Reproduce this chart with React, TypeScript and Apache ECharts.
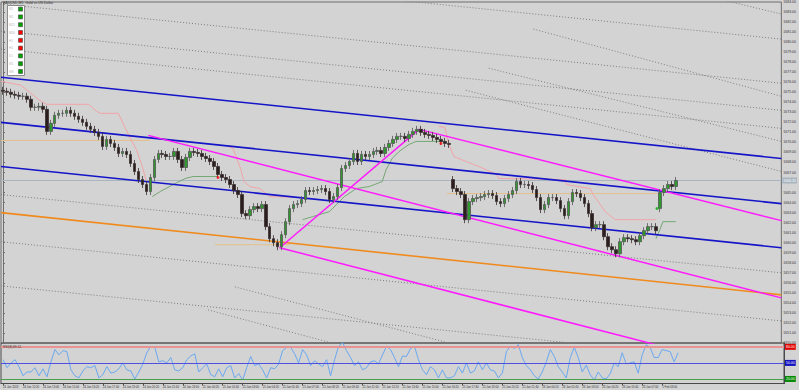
import React, { useEffect, useRef } from 'react';
import * as echarts from 'echarts';

const closes = [
  1675.1, 1675.0, 1674.8, 1674.7, 1674.6, 1674.6, 1674.3, 1673.5, 1673.5, 1673.6,
  1673.3, 1671.1, 1671.9, 1672.7, 1672.9, 1672.9, 1673.2, 1672.9, 1672.6, 1672.3,
  1672.0, 1671.6, 1671.3, 1671.0, 1670.6, 1669.6, 1670.3, 1669.9, 1669.5, 1668.9,
  1669.1, 1668.8, 1667.9, 1667.1, 1666.3, 1665.8, 1665.1, 1666.5, 1668.3, 1668.9,
  1668.8, 1668.6, 1668.6, 1669.1, 1668.3, 1667.5, 1668.5, 1669.1, 1669.0, 1668.9,
  1668.6, 1668.4, 1668.1, 1667.6, 1666.8, 1666.5, 1666.3, 1665.8, 1665.2, 1664.8,
  1662.9, 1662.7, 1663.3, 1663.6, 1663.4, 1663.8, 1661.6, 1660.4, 1660.0, 1659.6,
  1660.8, 1662.1, 1663.4, 1663.8, 1663.9, 1664.3, 1665.2, 1665.1, 1665.2, 1665.3,
  1665.4, 1665.1, 1664.3, 1664.6, 1665.5, 1667.4, 1667.7, 1668.1, 1668.9, 1668.1,
  1668.8, 1668.6, 1668.8, 1669.1, 1669.2, 1668.9, 1669.5, 1669.9, 1670.3, 1670.6,
  1670.6, 1670.4, 1670.8, 1671.1, 1671.3, 1671.0, 1670.8, 1670.7, 1670.5, 1670.3,
  1670.1, 1669.9, 1669.8, 1665.4, 1665.1, 1664.8, 1662.3, 1664.1, 1664.4, 1664.5,
  1664.6, 1664.8, 1664.9, 1664.7, 1664.1, 1663.9, 1664.4, 1664.8, 1665.2, 1666.1,
  1665.8, 1665.8, 1665.7, 1665.3, 1664.5, 1663.3, 1663.8, 1664.5, 1664.5, 1664.2,
  1663.4, 1662.7, 1664.1, 1665.0, 1664.9, 1664.5, 1663.9, 1662.9, 1661.5, 1661.8,
  1661.8, 1660.6, 1659.6, 1659.3, 1658.9, 1660.1, 1660.5, 1660.4, 1660.3, 1660.1,
  1660.7, 1661.2, 1661.6, 1661.6, 1661.2, 1665.0, 1665.4, 1665.8, 1665.6, 1666.2,
];
// bars that open away from the previous close (session gaps): [bar, open]
const gapOpens: [number, number][] = [[113, 1666.3], [165, 1663.4]];
const wick = 0.35;

const rsiValues = [
  56, 41, 50, 56, 43, 26, 33, 33, 41, 26, 39, 24, 52, 75, 65, 73, 71, 37, 26, 22,
  35, 43, 41, 45, 22, 28, 43, 31, 33, 39, 50, 37, 35, 20, 33, 48, 69, 81, 79, 52,
  54, 50, 60, 37, 35, 41, 56, 63, 67, 33, 41, 48, 28, 24, 39, 24, 41, 45, 22, 30,
  18, 41, 62, 45, 48, 37, 22, 41, 39, 48, 73, 79, 79, 67, 50, 75, 65, 45, 54, 48,
  43, 56, 26, 56, 81, 88, 73, 60, 45, 52, 37, 41, 52, 54, 48, 65, 81, 75, 60, 43,
  63, 62, 77, 81, 56, 37, 28, 43, 37, 22, 37, 22, 22, 26, 43, 31, 50, 31, 35, 52,
  37, 50, 37, 35, 22, 31, 71, 81, 77, 84, 60, 45, 37, 26, 20, 33, 52, 75, 62, 43,
  33, 22, 60, 79, 60, 33, 46, 28, 18, 33, 22, 20, 30, 50, 43, 69, 48, 50, 52, 31,
  65, 84, 79, 60, 60, 75, 73, 71, 52, 69,
];

const timeLabels = [
  '24 Jan 2013', '24 Jan 12:20', '24 Jan 13:40', '24 Jan 15:00', '24 Jan 16:20', '24 Jan 17:40',
  '24 Jan 19:00', '24 Jan 20:20', '24 Jan 21:40', '24 Jan 23:00', '25 Jan 00:20', '25 Jan 01:40',
  '25 Jan 03:00', '25 Jan 04:20', '25 Jan 05:40', '25 Jan 07:00', '25 Jan 08:20', '25 Jan 09:40',
  '25 Jan 11:00', '25 Jan 12:20', '25 Jan 13:40', '25 Jan 15:00', '25 Jan 16:20', '25 Jan 17:40',
  '25 Jan 19:00', '25 Jan 20:20', '25 Jan 21:40', '28 Jan 00:20', '28 Jan 01:40', '28 Jan 03:00',
  '28 Jan 04:20', '28 Jan 05:40', '28 Jan 07:00', '1 Feb 08:00',
];
const slotCount = 196;
const labelEvery = 5;

const priceMin = 1650;
const priceMax = 1684;
const priceStep = 1;
const currentPrice = 1666.2;
const rsiMin = 11.5;
const rsiMax = 87.2;
const rsiLevels = [80, 50, 20];

// trend lines: [[bar, price], [bar, price]]
const blueChannel = [
  [[-0.5, 1676.5], [195.5, 1668.4]],
  [[-0.5, 1672.0], [195.5, 1663.9]],
  [[-0.5, 1667.6], [195.5, 1659.5]],
];
const orangeLine = [[-0.5, 1663.0], [195.5, 1654.8]];
const magentaLines = [
  [[69.5, 1659.5], [104.5, 1671.3]],
  [[104.5, 1671.3], [195.5, 1662.2]],
  [[36.5, 1670.7], [195.5, 1654.5]],
  [[69.5, 1659.5], [195.5, 1646.6]],
];
const dottedLines = [
  [[-0.5, 1683.8], [195.5, 1675.9]],
  [[-0.5, 1681.1], [195.5, 1673.2]],
  [[-0.5, 1679.3], [195.5, 1671.4]],
  [[-0.5, 1664.8], [195.5, 1657.0]],
  [[-0.5, 1655.7], [195.5, 1647.9]],
  [[-0.5, 1660.1], [195.5, 1652.2]],
  [[-0.5, 1688.2], [195.5, 1680.3]],
  [[174.5, 1684.8], [195.5, 1682.8]],
];
const pivotNames = ['R3', 'R2', 'R1', 'S1', 'S2'];
const pivotLines = [
  [[133.25, 1681.3], [195.5, 1674.6]],
  [[122, 1677.4], [195.5, 1670.1]],
  [[116.25, 1675.2], [195.5, 1667.1]],
  [[58.25, 1655.6], [195.5, 1641.3]],
  [[51.5, 1653.3], [195.5, 1638.0]],
];
const tanLevels = [
  [[-0.5, 1670.2], [37, 1670.2]],
  [[53.25, 1659.8], [72, 1659.8]],
  [[111.5, 1664.9], [164.5, 1664.9]],
];
const stopDown = [
  [[-0.5, 1676.1], [4.5, 1675.7], [9.5, 1674.1], [11, 1673.8], [21.5, 1673.8], [23.5, 1673.1], [24.5, 1672.9], [29, 1672.9], [30.5, 1671.6], [32, 1670.4], [33.5, 1669.3], [35, 1667.6], [36, 1666.1], [37, 1666.1]],
  [[56.5, 1669.6], [57.75, 1669.4], [59, 1668.1], [59.75, 1667.3], [60.5, 1666.1], [62, 1665.6], [64.5, 1665.4], [67, 1664.6], [75.25, 1664.5]],
  [[109.5, 1671.6], [111, 1671.5], [112, 1669.8], [113.25, 1668.6], [116.25, 1668.1], [119.5, 1667.6], [124, 1666.8], [124.5, 1666.4], [141.25, 1666.3], [141.5, 1665.8], [147.5, 1665.4], [148.25, 1664.8], [149.5, 1664.1], [151.25, 1663.1], [153.75, 1662.3], [164, 1662.3]],
];
const stopUp = [
  [[37.5, 1664.6], [39.5, 1665.1], [42.75, 1665.8], [45.75, 1666.4], [47.75, 1666.6], [54, 1666.6]],
  [[75.25, 1662.3], [77.75, 1662.6], [82, 1663.1], [83.75, 1663.8], [85.75, 1664.6], [88.75, 1665.4], [92, 1665.6], [95.25, 1666.1], [96.25, 1667.3], [97.75, 1668.4], [99.5, 1669.1], [102, 1669.8], [103.75, 1670.1], [111.25, 1670.1]],
  [[164, 1660.4], [165, 1661.3], [165.75, 1662.1], [169, 1662.1]],
];
const sellSignals = [[54, 1666.5], [110, 1669.9]];
const buySignals = [[164.25, 1663.4]];

const tfNames = ['M1', 'M5', 'M15', 'M30', 'H1', 'H4', 'D1', 'W1', 'MN'];
const tfTrend = ['up', 'up', 'up', 'down', 'down', 'down', 'up', 'up', 'up'];

const FONT = 'Liberation Sans';

export default function App() {
  const ref = useRef<HTMLDivElement>(null);
  useEffect(() => {
    document.body.style.margin = '0';
    if (!ref.current) return;
    const chart = echarts.init(ref.current, undefined, { renderer: 'svg' });

    const categories: string[] = [];
    for (let i = 0; i < slotCount; i++) {
      const k = i / labelEvery;
      categories.push(i % labelEvery === 0 && k < timeLabels.length ? timeLabels[k] : '');
    }
    const gapMap = new Map(gapOpens);
    const ohlc = closes.map((c, i) => {
      const o = gapMap.has(i) ? (gapMap.get(i) as number) : i === 0 ? c + 0.1 : closes[i - 1];
      return [o, c, Math.min(o, c) - wick, Math.max(o, c) + wick];
    });

    const lineSeries = (data: number[][], color: string, width: number, type: any = 'solid', z = 3) => ({
      type: 'line',
      xAxisIndex: 1,
      yAxisIndex: 0,
      data,
      symbol: 'none',
      silent: true,
      clip: true,
      z,
      lineStyle: { color, width, type },
    });

    const series: any[] = [];
    dottedLines.forEach((l) => series.push(lineSeries(l, '#7e7e7e', 1, [1, 2], 1)));
    pivotLines.forEach((l) => series.push(lineSeries(l, '#7e7e7e', 1, [1, 2], 1)));
    tanLevels.forEach((l) => series.push(lineSeries(l, '#e4c08c', 1, 'solid', 1)));
    series.push({
      type: 'scatter',
      xAxisIndex: 1,
      yAxisIndex: 0,
      symbolSize: 1,
      itemStyle: { opacity: 0 },
      silent: true,
      data: pivotLines.map((l, i) => ({
        value: l[0],
        label: {
          show: true,
          formatter: pivotNames[i],
          position: [0, -5],
          fontSize: 4,
          fontFamily: FONT,
          color: '#555',
        },
      })),
    });
    blueChannel.forEach((l) => series.push(lineSeries(l, '#1414c8', 1.6, 'solid', 4)));
    series.push(lineSeries(orangeLine, '#f08a1c', 1.6, 'solid', 4));
    magentaLines.forEach((l) => series.push(lineSeries(l, '#ff1aff', 1.5, 'solid', 4)));
    stopDown.forEach((l) => series.push(lineSeries(l, '#f2a4a8', 1, 'solid', 2)));
    stopUp.forEach((l) => series.push(lineSeries(l, '#74a874', 1, 'solid', 2)));

    series.push({
      type: 'candlestick',
      xAxisIndex: 0,
      yAxisIndex: 0,
      data: ohlc,
      barWidth: 3,
      z: 5,
      silent: true,
      itemStyle: {
        color: '#2e9a2e',
        color0: '#2b1e1e',
        borderColor: '#555555',
        borderColor0: '#3a3030',
        borderWidth: 0.8,
      },
      markLine: {
        silent: true,
        symbol: 'none',
        lineStyle: { color: '#a8b4c0', width: 1, type: 'solid' },
        label: {
          position: 'end',
          formatter: currentPrice.toFixed(2),
          fontSize: 3.5,
          fontFamily: FONT,
          color: '#fff',
          backgroundColor: '#a8b4c0',
          padding: [1, 1],
          distance: 1,
        },
        data: [{ yAxis: currentPrice }],
        z: 1,
      },
    });
    series.push({
      type: 'scatter',
      xAxisIndex: 1,
      yAxisIndex: 0,
      symbol: 'circle',
      symbolSize: 3,
      z: 6,
      silent: true,
      itemStyle: { color: '#ff1010' },
      data: sellSignals,
    });
    series.push({
      type: 'scatter',
      xAxisIndex: 1,
      yAxisIndex: 0,
      symbol: 'circle',
      symbolSize: 3,
      z: 6,
      silent: true,
      itemStyle: { color: '#10b010' },
      data: buySignals,
    });

    const levelColors = ['#e00000', '#1010c0', '#008a00'];
    const levelLines = ['#e89292', '#5050e0', '#48a048'];
    series.push({
      type: 'line',
      xAxisIndex: 2,
      yAxisIndex: 1,
      data: rsiValues,
      symbol: 'none',
      silent: true,
      lineStyle: { color: '#6aa8f0', width: 1 },
      markLine: {
        silent: true,
        symbol: 'none',
        data: rsiLevels.map((v, i) => ({
          yAxis: v,
          lineStyle: { color: levelLines[i], width: i === 0 ? 2 : 1, type: 'solid' },
          label: {
            position: 'end',
            formatter: v.toFixed(2),
            fontSize: 3.5,
            fontFamily: FONT,
            color: '#fff',
            backgroundColor: levelColors[i],
            padding: [1, 1],
            distance: 1,
          },
        })),
      },
    });

    const graphics: any[] = [
      {
        type: 'text',
        left: 3,
        top: 1,
        style: { text: 'XAUUSD,M5  Gold vs US Dollar', fontSize: 3.5, fontFamily: FONT, fill: '#333' },
        z: 20,
      },
      {
        type: 'text',
        left: 3,
        top: 345,
        style: { text: 'RSI(8) 69.12', fontSize: 3.2, fontFamily: FONT, fill: '#333' },
        z: 20,
      },
      {
        type: 'rect',
        shape: { x: 7.5, y: 5.5, width: 17, height: 70 },
        style: { fill: '#ffffff', stroke: '#8a8a8a', lineWidth: 1 },
        z: 20,
      },
    ];
    tfNames.forEach((n, i) => {
      const y = 9.3 + i * 7.8;
      graphics.push({
        type: 'text',
        x: 9,
        y: y - 1.8,
        style: { text: n, fontSize: 3, fontFamily: FONT, fill: '#b8b8b8' },
        z: 21,
      });
      graphics.push({
        type: 'rect',
        shape: { x: 18.5, y: y - 2.2, width: 4, height: 4 },
        style: { fill: tfTrend[i] === 'up' ? '#00a000' : '#ff0000', stroke: '#444', lineWidth: 0.6 },
        z: 21,
      });
    });

    const option: any = {
      animation: false,
      backgroundColor: '#d3d3d3',
      textStyle: { fontFamily: FONT },
      grid: [
        { left: 1, top: 1, width: 783, height: 342, show: true, borderColor: '#6e6e6e', borderWidth: 1, backgroundColor: 'transparent' },
        { left: 1, top: 343, width: 783, height: 40.5, show: true, borderColor: '#4a4a4a', borderWidth: 1, backgroundColor: 'transparent' },
      ],
      xAxis: [
        {
          type: 'category',
          gridIndex: 0,
          data: categories,
          boundaryGap: true,
          axisLine: { show: false },
          axisTick: { show: false },
          axisLabel: { show: false },
          splitLine: { show: false },
        },
        { type: 'value', gridIndex: 0, min: -0.5, max: slotCount - 0.5, show: false },
        {
          type: 'category',
          gridIndex: 1,
          data: categories,
          boundaryGap: true,
          axisLine: { show: true, lineStyle: { color: '#4a4a4a' } },
          axisTick: {
            show: true,
            alignWithLabel: true,
            length: 2,
            interval: (i: number, v: string) => v !== '',
            lineStyle: { color: '#4a4a4a' },
          },
          axisLabel: {
            interval: (i: number, v: string) => v !== '',
            fontSize: 2.8,
            color: '#333',
            align: 'left',
            margin: 2,
            fontFamily: FONT,
          },
          splitLine: { show: false },
        },
      ],
      yAxis: [
        {
          type: 'value',
          gridIndex: 0,
          position: 'right',
          min: priceMin,
          max: priceMax,
          interval: priceStep,
          axisLine: { show: true, lineStyle: { color: '#6e6e6e' } },
          axisTick: { show: true, length: 2, lineStyle: { color: '#6e6e6e' } },
          axisLabel: {
            fontSize: 3.5,
            color: '#333',
            margin: 2,
            fontFamily: FONT,
            // the tick under the current-price box is covered by it, as in the terminal
            formatter: (v: number) => (Math.abs(v - currentPrice) < 0.6 ? '' : v.toFixed(2)),
          },
          splitLine: { show: false },
        },
        {
          type: 'value',
          gridIndex: 1,
          position: 'right',
          min: rsiMin,
          max: rsiMax,
          axisLine: { show: true, lineStyle: { color: '#4a4a4a' } },
          axisTick: { show: false },
          axisLabel: { show: false },
          splitLine: { show: false },
        },
      ],
      series,
      graphic: graphics,
    };
    chart.setOption(option);
    return () => chart.dispose();
  }, []);
  return <div ref={ref} style={{ width: 799, height: 390 }} />;
}
